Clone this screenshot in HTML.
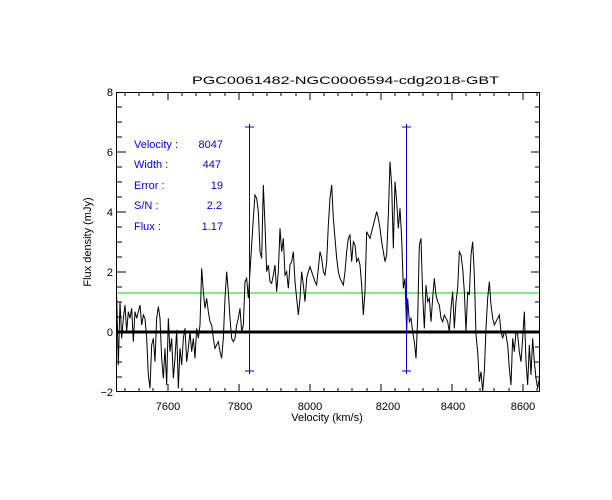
<!DOCTYPE html>
<html><head><style>
body{margin:0;background:#fff}
svg{display:block}
text{font-family:"Liberation Sans","DejaVu Sans",sans-serif;font-size:11px;fill:#000}
.b{fill:#0000ee}
</style></head><body>
<svg width="612" height="500" xmlns="http://www.w3.org/2000/svg">
<rect width="612" height="500" fill="#fff"/>
<text x="192" y="84" font-size="13" textLength="307" lengthAdjust="spacingAndGlyphs">PGC0061482-NGC0006594-cdg2018-GBT</text>
<defs><clipPath id="c"><rect x="117" y="92" width="423" height="300"/></clipPath></defs>
<g clip-path="url(#c)">
<line x1="117" y1="293" x2="540" y2="293" stroke="#00dd00" stroke-width="1"/>
<g transform="translate(110,85) scale(0.33333)" fill="none" stroke="#000">
<polyline vector-effect="non-scaling-stroke" stroke-width="1" points="20,635 25,840 30,650 35,760 40,700 45,660 50,740 55,680 60,700 65,670 70,770 75,680 80,700 85,680 90,660 95,720 100,690 105,700 110,760 115,870 120,910 125,780 130,760 135,830 140,700 145,665 150,700 155,820 160,880 165,790 170,900 175,700 180,800 185,760 190,880 195,820 200,735 205,910 210,790 215,840 220,760 225,730 230,830 235,790 240,740 245,800 250,760 255,820 260,730 265,760 270,720 275,550 280,620 285,670 290,640 295,680 300,710 305,720 310,760 315,790 320,780 325,770 330,800 335,820 340,760 345,640 350,560 355,620 360,700 365,760 370,770 375,760 380,720 385,700 390,670 395,740 400,720 405,590 410,580 415,640 420,560 425,480 430,400 435,330 440,340 445,380 450,500 455,520 460,300 465,420 470,560 475,540 480,590 485,595 490,570 495,540 500,620 505,560 510,430 515,500 520,460 525,570 530,560 535,610 540,540 545,530 550,500 555,590 560,640 565,690 570,640 575,560 580,600 585,650 590,580 595,560 600,545 605,560 610,575 615,590 620,600 625,550 630,500"/>
</g>
<g transform="translate(320,85) scale(0.33333)" fill="none" stroke="#000">
<polyline vector-effect="non-scaling-stroke" stroke-width="1" points="0,500 5,520 10,560 15,570 20,530 25,420 30,340 35,300 40,400 45,460 50,520 55,560 60,580 65,590 70,600 75,560 80,500 85,460 90,450 95,530 100,470 105,480 110,530 115,520 120,540 125,600 130,690 135,620 140,440 145,450 150,460 155,440 160,420 165,400 170,380 175,400 180,430 185,470 190,500 195,530 200,510 205,390 210,230 215,300 220,490 225,290 230,350 235,430 240,370 245,460 250,610 255,580 260,740 263,640 268,710 273,700 278,740 283,770 288,820 293,700 298,480 303,460 308,630 313,730 318,600 323,650 328,640 333,710 338,640 343,580 348,630 353,650 358,660 363,700 368,710 373,690 378,700 383,710 388,740 393,670 398,620 403,730 408,650 413,610 418,500 423,510 428,550 433,620 438,740 443,620 448,630 453,510 458,470 463,570 468,750 473,800 478,890 483,860 488,920 493,860 498,730 503,640 508,590 513,660 518,700 523,720 528,710 533,700 538,690 543,740 548,760 553,740 558,750 563,780 568,850 573,900 578,760 583,800 588,740 593,750 598,800 603,830 608,760 613,680 618,830 623,900 628,780 633,870 638,760 643,830 648,880 653,910 658,880"/>
</g>
<line x1="117" y1="332" x2="540" y2="332" stroke="#000" stroke-width="3"/>
</g>
<g stroke="#0000dd" stroke-width="1">
<line x1="249.5" y1="124" x2="249.5" y2="374"/>
<line x1="245" y1="127" x2="254" y2="127"/><line x1="245" y1="371" x2="254" y2="371"/>
<line x1="406.5" y1="124" x2="406.5" y2="374"/>
<line x1="402" y1="127" x2="411" y2="127"/><line x1="402" y1="371" x2="411" y2="371"/>
</g>
<rect x="116.5" y="92.5" width="423" height="299" fill="none" stroke="#000"/>
<path stroke="#000" fill="none" d="
M168,392v-8M168,92v8 M239,392v-8M239,92v8 M310,392v-8M310,92v8 M381,392v-8M381,92v8 M452,392v-8M452,92v8 M523,392v-8M523,92v8
M125,392v-4M125,92v4 M139,392v-4M139,92v4 M153,392v-4M153,92v4 M182,392v-4M182,92v4 M196,392v-4M196,92v4 M210,392v-4M210,92v4 M225,392v-4M225,92v4
M253,392v-4M253,92v4 M267,392v-4M267,92v4 M281,392v-4M281,92v4 M296,392v-4M296,92v4 M324,392v-4M324,92v4 M338,392v-4M338,92v4 M352,392v-4M352,92v4 M367,392v-4M367,92v4
M395,392v-4M395,92v4 M409,392v-4M409,92v4 M423,392v-4M423,92v4 M438,392v-4M438,92v4 M466,392v-4M466,92v4 M480,392v-4M480,92v4 M494,392v-4M494,92v4 M509,392v-4M509,92v4 M537,392v-4M537,92v4
M117,332h9M540,332h-9 M117,272h9M540,272h-9 M117,212h9M540,212h-9 M117,152h9M540,152h-9
M117,377h5M540,377h-5 M117,362h5M540,362h-5 M117,347h5M540,347h-5 M117,317h5M540,317h-5 M117,302h5M540,302h-5 M117,287h5M540,287h-5
M117,257h5M540,257h-5 M117,242h5M540,242h-5 M117,227h5M540,227h-5 M117,197h5M540,197h-5 M117,182h5M540,182h-5 M117,167h5M540,167h-5
M117,137h5M540,137h-5 M117,122h5M540,122h-5 M117,107h5M540,107h-5"/>
<g text-anchor="middle">
<text x="168" y="410">7600</text><text x="240" y="410">7800</text><text x="310" y="410">8000</text>
<text x="388" y="410">8200</text><text x="453" y="410">8400</text><text x="523" y="410">8600</text>
<text x="327" y="421" font-size="11">Velocity (km/s)</text>
</g>
<g text-anchor="end">
<text x="113" y="396">−2</text><text x="113" y="336">0</text><text x="113" y="276">2</text>
<text x="113" y="216">4</text><text x="113" y="156">6</text><text x="113" y="96">8</text>
</g>
<text transform="translate(91,242) rotate(-90)" text-anchor="middle">Flux density (mJy)</text>
<g font-size="10">
<text class="b" x="134" y="148">Velocity :</text><text class="b" x="223" y="148" text-anchor="end">8047</text>
<text class="b" x="134" y="168">Width :</text><text class="b" x="221" y="168" text-anchor="end">447</text>
<text class="b" x="134" y="189">Error :</text><text class="b" x="223" y="189" text-anchor="end">19</text>
<text class="b" x="134" y="209">S/N :</text><text class="b" x="222" y="209" text-anchor="end">2.2</text>
<text class="b" x="134" y="230">Flux :</text><text class="b" x="223" y="230" text-anchor="end">1.17</text>
</g>
</svg>
</body></html>
